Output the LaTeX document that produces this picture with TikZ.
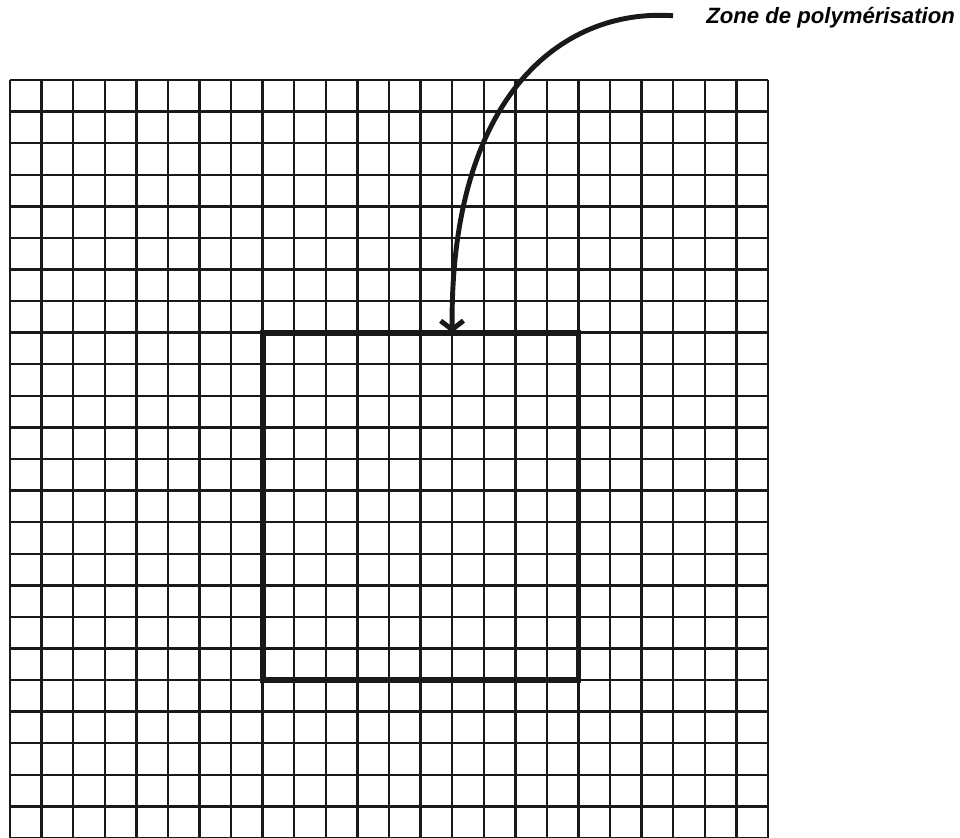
\documentclass[tikz,border=0pt]{standalone}
\usepackage{fontspec}
\usepackage{tikz}
\usetikzlibrary{arrows.meta}
\newfontfamily\zonefont{Liberation Sans}

\begin{document}
\begin{tikzpicture}[x=0.02cm, y=0.02cm,
    gridline/.style={line width=1.4pt, black!90},
    zonebox/.style={line width=3.4pt, black!90},
    lbl/.style={inner sep=0pt, font=\zonefont\bfseries\itshape\fontsize{12.6}{15}\selectfont},
    arr/.style={-{Straight Barb[length=5pt, width=13pt]}, line width=2.8pt, black!90}
  ]
  \useasboundingbox (0,0) rectangle (960,838);
  % mesh 24 x 24
  \foreach \i in {0,...,24} {
    \draw[gridline] ({10+\i*31.583},0) -- ({10+\i*31.583},758);
    \draw[gridline] (10,{758-\i*31.583}) -- (768,{758-\i*31.583});
  }
  % zone
  \draw[zonebox] ({10+8*31.583},{758-8*31.583}) rectangle ({10+18*31.583},{758-19*31.583});
  \coordinate (tip) at ({10+14*31.583},{758-8*31.583});
  \node[lbl, anchor=west] (zone) at (706,820) {Zone de polymérisation};
  \draw[arr, shorten <=0.66cm] (zone.west) .. controls (560,830) and (450,740) .. (tip);
\end{tikzpicture}
\end{document}
